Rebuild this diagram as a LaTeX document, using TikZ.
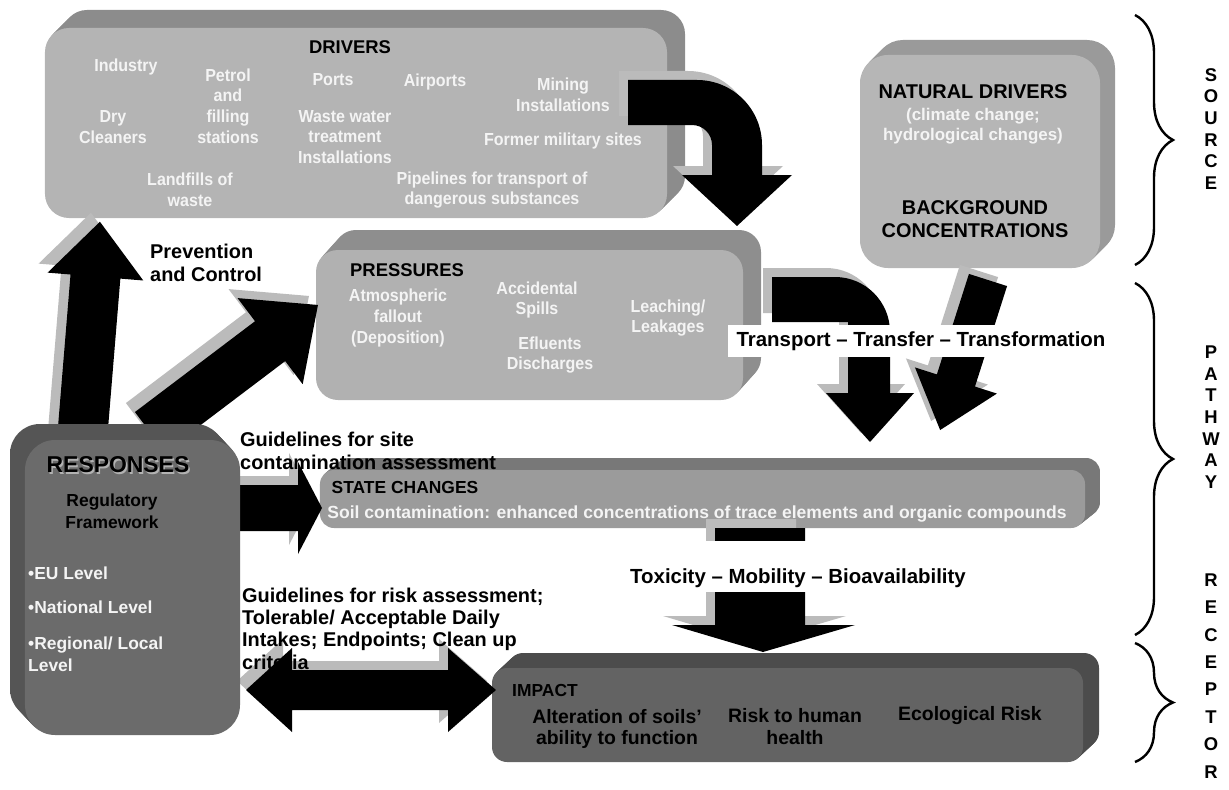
\documentclass[tikz,border=0pt]{standalone}
\usepackage{fontspec}
\setmainfont{Liberation Sans}
\newfontfamily\nfont{Liberation Sans}[FakeStretch=0.92]
\usetikzlibrary{calc,decorations.pathreplacing}

\definecolor{shadowgray}{HTML}{BBBBBB}
\definecolor{drvF}{HTML}{B4B4B4}
\definecolor{natF}{HTML}{B6B6B6}
\definecolor{preF}{HTML}{B1B1B1}
\definecolor{stF}{HTML}{9B9B9B}
\definecolor{impF}{HTML}{636363}
\definecolor{resF}{HTML}{6B6B6B}
\definecolor{resB}{HTML}{555555}
\definecolor{wtext}{HTML}{F4F4F4}
\definecolor{dA}{HTML}{8C8C8C}\definecolor{dB}{HTML}{D2D2D2}
\definecolor{nA}{HTML}{9A9A9A}\definecolor{nB}{HTML}{D4D4D4}
\definecolor{pA}{HTML}{8E8E8E}\definecolor{pB}{HTML}{CFCFCF}
\definecolor{sA}{HTML}{787878}\definecolor{sB}{HTML}{B4B4B4}
\definecolor{iA}{HTML}{4C4C4C}\definecolor{iB}{HTML}{7C7C7C}

\pgfdeclarehorizontalshading{drvsh}{100bp}{color(0bp)=(dA); color(86bp)=(dA); color(100bp)=(dB)}
\pgfdeclarehorizontalshading{natsh}{100bp}{color(0bp)=(nA); color(80bp)=(nA); color(100bp)=(nB)}
\pgfdeclarehorizontalshading{presh}{100bp}{color(0bp)=(pA); color(86bp)=(pA); color(100bp)=(pB)}
\pgfdeclarehorizontalshading{stsh}{100bp}{color(0bp)=(sA); color(95bp)=(sA); color(100bp)=(sB)}
\pgfdeclarehorizontalshading{impsh}{100bp}{color(0bp)=(iA); color(94bp)=(iA); color(100bp)=(iB)}
\pgfdeclarehorizontalshading{ressh}{100bp}{color(0bp)=(resB); color(100bp)=(resB)}

% extruded back of a box: x1 y1 x2 y2 dx dy radius shading
\newcommand{\extr}[8]{%
  \foreach \k in {1,...,10}{%
    \shade[shading=#8, rounded corners=#7] ({#1+\k*#5/10},{-#2+\k*#6/10}) rectangle ({#3+\k*#5/10},{-#4+\k*#6/10});}}

% straight block arrow: tail x, tail y, angle, length, shaft half width, head half width, head length
\newcommand{\blk}[7]{%
  \foreach \sx/\sy/\cc in {-9/9/shadowgray, 0/0/black}{%
    \fill[\cc, shift={({#1+\sx},{-#2+\sy})}, rotate=#3] (0,-#5) -- ({#4-#7},-#5) -- ({#4-#7},-#6) -- (#4,0) -- ({#4-#7},#6) -- ({#4-#7},#5) -- (0,#5) -- cycle;}}

\tikzset{
  face/.style={inner sep=0pt, draw=none},
  wtxt/.style={text=wtext, font=\nfont\bfseries\fontsize{17.5}{20.6}\selectfont, align=center, inner sep=0pt},
  wtxtb/.style={text=wtext, font=\bfseries\fontsize{17}{20}\selectfont, align=center, inner sep=0pt},
  btitle/.style={text=black, font=\bfseries\fontsize{17.5}{22}\selectfont, align=center, inner sep=0pt},
  bbig/.style={text=black, font=\bfseries\fontsize{20.5}{22.5}\selectfont, align=center, inner sep=0pt},
  blab/.style={text=black, font=\bfseries\fontsize{20}{22.5}\selectfont, align=left, inner sep=0pt, anchor=west},
  wlev/.style={text=wtext, font=\bfseries\fontsize{17.5}{22}\selectfont, align=left, inner sep=0pt, anchor=west},
  vlet/.style={text=black, font=\bfseries\fontsize{18.5}{18.5}\selectfont, inner sep=0pt},
  bracestyle/.style={draw=black, line width=2.4bp, decorate, decoration={brace, amplitude=38bp}},
}

\begin{document}
\begin{tikzpicture}[x=1bp,y=1bp]
\useasboundingbox (0,0) rectangle (1229,-790);

% ---------- boxes ----------
\extr{45}{28}{667}{218}{18}{18}{24}{drvsh}
\node[face, fill=drvF, minimum width=622bp, minimum height=190bp, rounded corners=24bp] (drivers) at (356,-123) {};

\extr{860}{55}{1100}{268}{15}{15}{28}{natsh}
\node[face, fill=natF, minimum width=240bp, minimum height=213bp, rounded corners=28bp] (natural) at (980,-161.5) {};

\extr{316}{250}{743}{400}{18}{20}{22}{presh}
\node[face, fill=preF, minimum width=427bp, minimum height=150bp, rounded corners=22bp] (pressures) at (529.5,-325) {};

\extr{320}{470}{1085}{528}{15}{12}{14}{stsh}
\node[face, fill=stF, minimum width=765bp, minimum height=58bp, rounded corners=14bp] (state) at (702.5,-499) {};

\extr{492}{668}{1083}{762}{16}{15}{15}{impsh}
\node[face, fill=impF, minimum width=591bp, minimum height=94bp, rounded corners=15bp] (impact) at (787.5,-715) {};

% ---------- arrows ----------
% responses -> drivers
\blk{82}{440}{85.3}{219}{25}{48}{55}
% responses -> pressures
\blk{150}{432}{37.1}{210.6}{25}{54}{60}
% responses -> state changes
\blk{230}{508}{0}{92}{23}{46}{24}
% responses <-> impact
\foreach \sx/\sy/\cc in {-9/9/shadowgray, 0/0/black}{%
  \fill[\cc, shift={(\sx,\sy)}] (246,-690) -- (292,-648) -- (292,-670) -- (448,-670) -- (448,-648) -- (496,-690) -- (448,-732) -- (448,-710) -- (292,-710) -- (292,-732) -- cycle;}
% state -> impact
\foreach \sx/\sy/\cc in {-9/9/shadowgray, 0/0/black}{%
  \fill[\cc, shift={(\sx,\sy)}] (715,-528) -- (805,-528) -- (805,-625) -- (855,-625) -- (763,-652) -- (672,-625) -- (715,-625) -- cycle;}
% drivers -> pressures (curved)
\foreach \sx/\sy/\cc in {-9/9/shadowgray, 0/0/black}{%
  \fill[\cc, shift={(\sx,\sy)}] (628,-80) -- (697,-80) arc[start angle=90, end angle=0, radius=65] -- (762,-175) -- (792,-175) -- (737,-226) -- (682,-175) -- (712,-175) -- (712,-145) arc[start angle=0, end angle=90, radius=20] -- (628,-125) -- cycle;}
% pressures -> state (curved)
\foreach \sx/\sy/\cc in {-9/9/shadowgray, 0/0/black}{%
  \fill[\cc, shift={(\sx,\sy)}] (772,-277) -- (835,-277) arc[start angle=90, end angle=0, radius=55] -- (890,-393) -- (914,-393) -- (870,-442) -- (826,-393) -- (848,-393) -- (848,-322) -- (772,-322) -- cycle;}
% natural -> state
\blk{988}{280}{-107.7}{157.5}{20}{43}{52}

% ---------- responses box ----------
\extr{25}{440}{240}{735}{-15}{16}{30}{ressh}
\node[face, fill=resF, minimum width=215bp, minimum height=295bp, rounded corners=30bp] (responses) at (132.5,-587.5) {};

% ---------- labels on arrows ----------
\node[bbig, fill=white, inner xsep=9bp, minimum height=32bp] (ttt) at (921,-341) {Transport – Transfer – Transformation};
\fill[white] (690,-541) rectangle (830,-592);
\node[bbig] (tmb) at (798,-578) {Toxicity – Mobility – Bioavailability};

% ---------- texts ----------
\node[btitle, font=\bfseries\fontsize{18.5}{22}\selectfont] (drvtitle) at (350,-47) {DRIVERS};
\node[wtxt] (ind) at (126,-67) {Industry};
\node[wtxt] (pet) at (228,-106) {Petrol\\and\\filling\\stations};
\node[wtxt] (ports) at (333,-80) {Ports};
\node[wtxt] (airp) at (435,-82) {Airports};
\node[wtxt] (mining) at (563,-95) {Mining\\Installations};
\node[wtxt] (dry) at (113,-127) {Dry\\Cleaners};
\node[wtxt] (waste) at (345,-137) {Waste water\\treatment\\Installations};
\node[wtxt] (former) at (563,-141) {Former military sites};
\node[wtxt] (landf) at (190,-190) {Landfills of\\waste};
\node[wtxt] (pipe) at (492,-190) {Pipelines for transport of\\dangerous substances};

\node[bbig, font=\bfseries\fontsize{20}{22}\selectfont] (nattitle) at (973,-92) {NATURAL DRIVERS};
\node[wtxtb] (natsub) at (973,-126) {(climate change;\\hydrological changes)};
\node[bbig, font=\bfseries\fontsize{20}{22.5}\selectfont] (bg) at (975,-219) {BACKGROUND\\CONCENTRATIONS};

\node[btitle, font=\bfseries\fontsize{18.5}{22}\selectfont] (pretitle) at (407,-270) {PRESSURES};
\node[wtxt] (atm) at (398,-318) {Atmospheric\\fallout\\(Deposition)};
\node[wtxt] (acc) at (537,-300) {Accidental\\Spills};
\node[wtxt] (efl) at (550,-355) {Efluents\\Discharges};
\node[wtxt] (leach) at (668,-318) {Leaching/\\Leakages};

\node[blab] (prev) at (150,-263) {Prevention\\and Control};
\node[blab] (gsite) at (240,-451) {Guidelines for site\\contamination assessment};
\node[blab] (grisk) at (242,-628.5) {Guidelines for risk assessment;\\Tolerable/ Acceptable Daily\\Intakes; Endpoints; Clean up\\criteria};

\node[btitle, text=black!30, font=\bfseries\fontsize{23}{26}\selectfont] at (119.5,-466.5) {RESPONSES};
\node[btitle, font=\bfseries\fontsize{23}{26}\selectfont] (restitle) at (118,-465) {RESPONSES};
\node[btitle, font=\bfseries\fontsize{17.5}{22}\selectfont] (reg) at (112,-511) {Regulatory\\Framework};
\node[wlev] (eu) at (28,-573) {•EU Level};
\node[wlev] (nat) at (28,-607) {•National Level};
\node[wlev] (regl) at (28,-654) {•Regional/ Local\\Level};

\node[btitle] (sttitle) at (405,-487) {STATE CHANGES};
\node[wtxtb, font=\bfseries\fontsize{17.6}{20}\selectfont] (soil) at (697,-514) {Soil contamination: enhanced concentrations of trace elements and organic compounds};

\node[btitle] (imptitle) at (545,-690) {IMPACT};
\node[bbig, font=\bfseries\fontsize{19.5}{22}\selectfont] (alt) at (617,-729) {Alteration of soils'\\ability to function};
\node[bbig, font=\bfseries\fontsize{19.5}{22}\selectfont] (risk) at (795,-727) {Risk to human\\health};
\node[bbig, font=\bfseries\fontsize{19.5}{22}\selectfont] (eco) at (970,-716) {Ecological Risk};

% ---------- braces and side letters ----------
\draw[bracestyle] (1135,-15) -- (1135,-265);
\draw[bracestyle] (1135,-283) -- (1135,-635);
\draw[bracestyle] (1135,-643) -- (1135,-762);
\foreach \l [count=\i] in {S,O,U,R,C,E}
  \node[vlet] (src\i) at (1211,{-75-21.6*(\i-1)}) {\l};
\foreach \l [count=\i] in {P,A,T,H,W,A,Y}
  \node[vlet] (pth\i) at (1211,{-352-21.7*(\i-1)}) {\l};
\foreach \l [count=\i] in {R,E,C,E,P,T,O,R}
  \node[vlet] (rcp\i) at (1211,{-580-27.4*(\i-1)}) {\l};
\end{tikzpicture}
\end{document}
